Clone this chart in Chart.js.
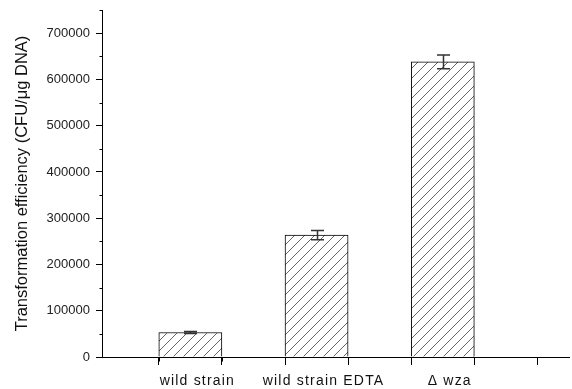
<!DOCTYPE html>
<html>
<head>
<meta charset="utf-8">
<script src="https://cdn.jsdelivr.net/npm/chart.js@4.4.0/dist/chart.umd.min.js"></script>
<style>
html,body{margin:0;padding:0;background:#fff;}
#wrap{width:572px;height:389px;position:relative;}
</style>
</head>
<body>
<div id="wrap"><canvas id="c" width="572" height="389"></canvas></div>
<script>
// Data
const categories = ['wild strain', 'wild strain EDTA', '\u0394 wza'];
const positions = [1, 2, 3];
const values = [53000, 263500, 638000];
const errors = [2000, 10000, 15000];
const yTickValues = [0, 100000, 200000, 300000, 400000, 500000, 600000, 700000];
const yMinorTicks = [50000, 150000, 250000, 350000, 450000, 550000, 650000, 750000];
const xTickValues = [0.5, 1, 1.5, 2, 2.5, 3, 3.5, 4];
const xMinorTicks = [0.75, 1.25, 1.75, 2.25, 2.75, 3.25, 3.75];
const yTitle = 'Transformation efficiency (CFU/\u03bcg DNA)';

// Hatch pattern
function makeHatch() {
  const s = 10;
  const p = document.createElement('canvas');
  p.width = s; p.height = s;
  const g = p.getContext('2d');
  g.fillStyle = '#fff';
  g.fillRect(0, 0, s, s);
  g.strokeStyle = '#555';
  g.lineWidth = 0.9;
  g.beginPath();
  g.moveTo(0, s); g.lineTo(s, 0);
  g.moveTo(-s / 2, s / 2); g.lineTo(s / 2, -s / 2);
  g.moveTo(s / 2, s * 1.5); g.lineTo(s * 1.5, s / 2);
  g.stroke();
  return g.createPattern(p, 'repeat');
}

const FONT = "'Liberation Sans', Arial, sans-serif";

const extras = {
  id: 'extras',
  afterDatasetsDraw(chart) {
    const ctx = chart.ctx;
    const xs = chart.scales.x, ys = chart.scales.y;
    ctx.save();
    // error bars
    ctx.strokeStyle = '#333';
    ctx.lineWidth = 1.5;
    for (let i = 0; i < values.length; i++) {
      const px = Math.round(xs.getPixelForValue(positions[i])) + 0.5;
      const t = ys.getPixelForValue(values[i] + errors[i]);
      const b = ys.getPixelForValue(values[i] - errors[i]);
      ctx.beginPath();
      ctx.moveTo(px, t); ctx.lineTo(px, b);
      ctx.moveTo(px - 6.5, t); ctx.lineTo(px + 6.5, t);
      ctx.moveTo(px - 6.5, b); ctx.lineTo(px + 6.5, b);
      ctx.stroke();
    }
    // minor ticks
    ctx.strokeStyle = '#000';
    ctx.lineWidth = 1;
    const ax = Math.round(xs.left) + 0.5;
    yMinorTicks.forEach((v) => {
      const py = Math.round(ys.getPixelForValue(v)) + 0.5;
      ctx.beginPath(); ctx.moveTo(ax - 3, py); ctx.lineTo(ax, py); ctx.stroke();
    });
    const ay = Math.round(ys.bottom) + 0.5;
    xMinorTicks.forEach((v) => {
      const px = Math.round(xs.getPixelForValue(v)) + 0.5;
      ctx.beginPath(); ctx.moveTo(px, ay); ctx.lineTo(px, ay + 4); ctx.stroke();
    });
    // category labels
    ctx.fillStyle = '#111';
    ctx.font = '14px ' + FONT;
    ctx.textAlign = 'center';
    ctx.textBaseline = 'alphabetic';
    try { ctx.letterSpacing = '1.2px'; } catch (e) {}
    positions.forEach((v, i) => {
      const px = xs.getPixelForValue(v) + 7;
      ctx.fillText(categories[i], px, ys.bottom + 28);
    });
    ctx.restore();
  }
};

new Chart(document.getElementById('c'), {
  type: 'bar',
  data: {
    datasets: [{
      data: positions.map((x, i) => ({ x: x, y: values[i] })),
      backgroundColor: makeHatch(),
      borderColor: '#000',
      borderWidth: 1,
      categoryPercentage: 1,
      barPercentage: 1
    }]
  },
  options: {
    responsive: false,
    animation: false,
    devicePixelRatio: 1,
    layout: { padding: { top: 10, right: 3, left: 0, bottom: 0 } },
    plugins: { legend: { display: false }, tooltip: { enabled: false } },
    scales: {
      x: {
        type: 'linear',
        min: 0.3, max: 4.0,
        offset: false,
        border: { color: '#000', width: 1 },
        grid: { drawOnChartArea: false, tickLength: 8, tickColor: '#000' },
        afterBuildTicks: (s) => { s.ticks = xTickValues.map((v) => ({ value: v })); },
        ticks: {
          autoSkip: false,
          maxRotation: 0,
          padding: 4,
          font: { family: FONT, size: 14 },
          callback: () => ''
        },
        afterFit: (s) => { s.height = 32; s.paddingLeft = 0; s.paddingRight = 0; }
      },
      y: {
        min: 0, max: 750000,
        border: { color: '#000', width: 1 },
        grid: { drawOnChartArea: false, tickLength: 6, tickColor: '#000' },
        afterBuildTicks: (s) => { s.ticks = yTickValues.map((v) => ({ value: v })); },
        ticks: {
          autoSkip: false,
          padding: 6,
          color: '#222',
          font: { family: FONT, size: 13 },
          callback: (v) => String(v)
        },
        title: {
          display: true,
          text: yTitle,
          color: '#111',
          font: { family: FONT, size: 16.5 },
          padding: { top: 13, bottom: 0 }
        },
        afterFit: (s) => { s.width = 102; s.paddingTop = 0; s.paddingBottom = 0; }
      }
    }
  },
  plugins: [extras]
});
</script>
</body>
</html>
